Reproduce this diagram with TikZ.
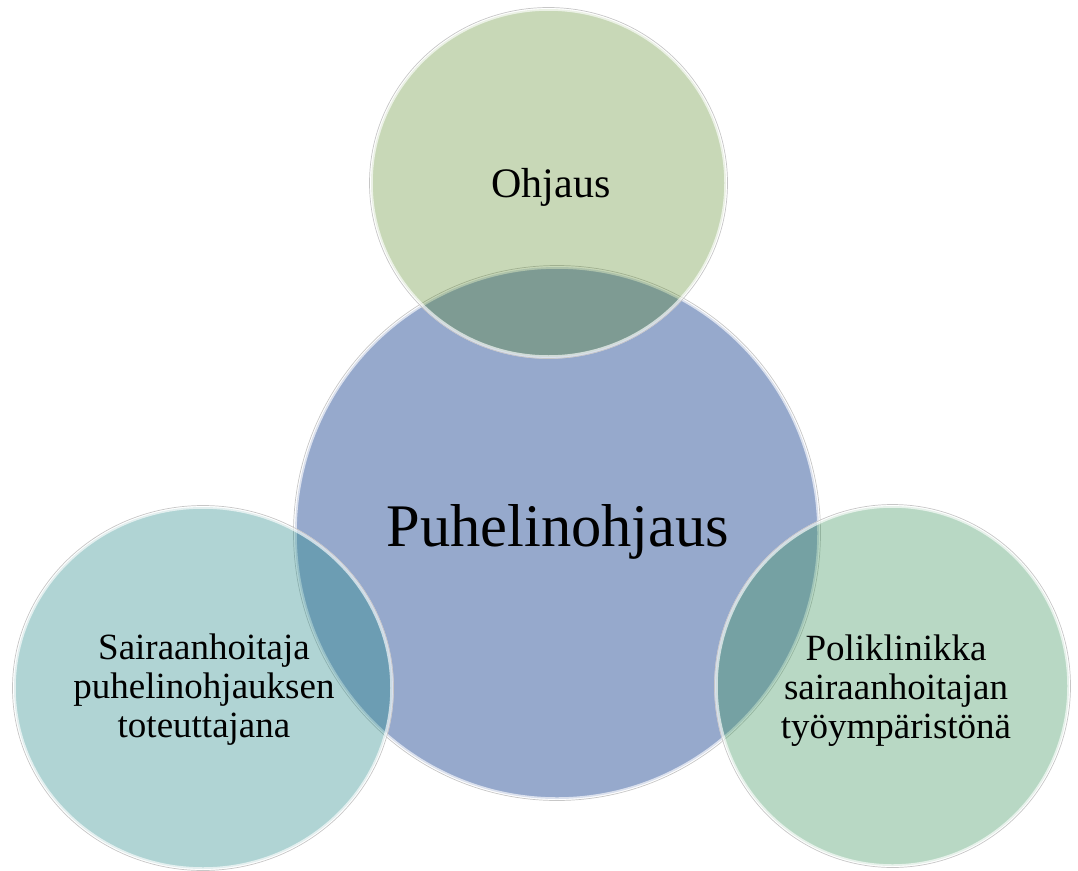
\documentclass[tikz,border=0pt]{standalone}
\usepackage{fontspec}
\setmainfont{Liberation Serif}
\usetikzlibrary{shapes.geometric}
\definecolor{cblue}{RGB}{150,169,204}
\definecolor{cgreen}{RGB}{72,125,18}
\definecolor{cteal}{RGB}{36,136,136}
\definecolor{cmint}{RGB}{63,150,95}
\tikzset{
  bubble/.style={ellipse, inner sep=0pt, draw=white, draw opacity=0.65, line width=3.5pt},
  rimline/.style={draw=black!22, line width=0.7pt},
  lbl/.style={align=center, text=black, inner sep=0pt},
}
\begin{document}
\begin{tikzpicture}[x=1pt,y=-1pt]
\useasboundingbox (0,0) rectangle (1078,870);
% central circle
\node[bubble, fill=cblue, minimum width=524pt, minimum height=532pt] (hub) at (557,533) {};
\draw[rimline] (hub.center) ellipse[x radius=263.5pt, y radius=267.5pt];
% outer circles
\node[bubble, fill=cgreen, fill opacity=0.30, minimum width=355pt, minimum height=348pt] (top) at (548.5,183) {};
\draw[rimline] (top.center) ellipse[x radius=179pt, y radius=175.5pt];
\node[bubble, fill=cteal, fill opacity=0.36, minimum width=378pt, minimum height=362pt] (left) at (203,688) {};
\draw[rimline] (left.center) ellipse[x radius=190.5pt, y radius=182.5pt];
\node[bubble, fill=cmint, fill opacity=0.37, minimum width=353pt, minimum height=360pt] (right) at (892.5,686) {};
\draw[rimline] (right.center) ellipse[x radius=178pt, y radius=181.5pt];
% labels
\node[lbl, font=\fontsize{60.5}{70}\selectfont] (hubt) at (558,532) {Puhelinohjaus};
\node[lbl, font=\fontsize{42}{48}\selectfont] (topt) at (551,187) {Ohjaus};
\node[lbl, font=\fontsize{37}{39}\selectfont] (leftt) at (204,690) {Sairaanhoitaja\\puhelinohjauksen\\toteuttajana};
\node[lbl, font=\fontsize{37}{39}\selectfont] (rightt) at (896,691) {Poliklinikka\\sairaanhoitajan\\työympäristönä};
\end{tikzpicture}
\end{document}
